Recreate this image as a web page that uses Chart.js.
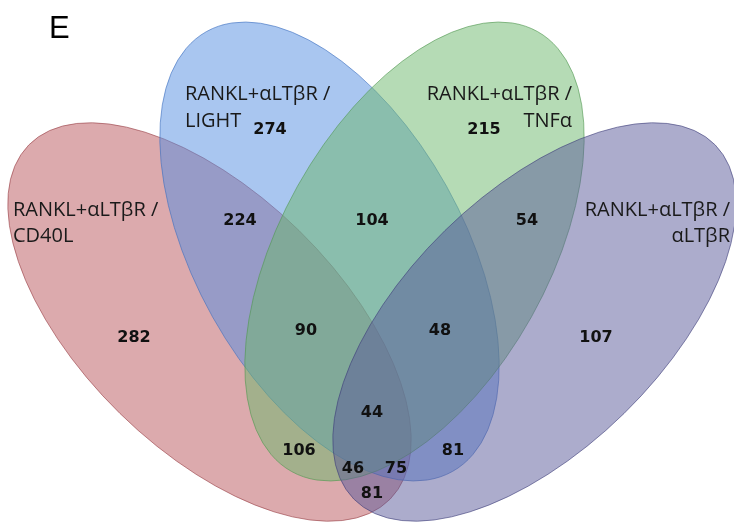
<!DOCTYPE html>
<html>
<head>
<meta charset="utf-8">
<script src="https://cdn.jsdelivr.net/npm/chart.js@4.4.1/dist/chart.umd.min.js"></script>
<style>
  html, body { margin: 0; padding: 0; background: #ffffff; }
  #wrap { width: 734px; height: 522px; position: relative; }
</style>
</head>
<body>
<div id="wrap"><canvas id="c" width="734" height="522"></canvas></div>
<script>
// ---------- DATA ----------
const panelLetter = 'E';
const setNames = ['RANKL+αLTβR / CD40L', 'RANKL+αLTβR / LIGHT', 'RANKL+αLTβR / TNFα', 'RANKL+αLTβR / αLTβR'];
// region memberships (C = CD40L, L = LIGHT, T = TNFα, A = αLTβR)
const regionKeys = ['C', 'L', 'T', 'A', 'CL', 'LT', 'TA', 'CLT', 'LTA', 'CLTA', 'CT', 'LA', 'CLA_T', 'CLA', 'CA'];
const regionCounts = [282, 274, 215, 107, 224, 104, 54, 90, 48, 44, 106, 81, 46, 75, 81];

// ---------- LAYOUT (positions / styles, in chart units) ----------
// region label anchors
const regionPos = [
  [134, 338], [270, 130], [484, 130], [596, 338],
  [240, 221], [372, 221], [527, 221],
  [306, 331], [440, 331], [372, 413],
  [299, 451], [453, 451], [353, 469], [396, 469], [372, 494]
];
// ellipses: centre x, centre y, semi-major, semi-minor, angle(deg, screen)
const ellipses = [
  { cx: 209.5, cy: 322,   a: 253, b: 128, ang: 44.4,  fill: 'rgba(185,85,91,0.5)',   stroke: 'rgba(150,60,66,0.6)' },
  { cx: 329.5, cy: 251.5, a: 252, b: 134, ang: 60.8,  fill: 'rgba(83,141,225,0.5)',  stroke: 'rgba(60,110,190,0.6)' },
  { cx: 414.5, cy: 251.5, a: 252, b: 134, ang: 119.2, fill: 'rgba(107,183,107,0.5)', stroke: 'rgba(80,150,80,0.6)' },
  { cx: 534.5, cy: 322,   a: 253, b: 128, ang: 135.6, fill: 'rgba(89,89,153,0.5)',   stroke: 'rgba(60,60,120,0.6)' }
];
// set-name label lines
const setLabelLayout = [
  { x: 13,  y: [216, 242], align: 'left'  },
  { x: 185, y: [100, 127], align: 'left'  },
  { x: 572, y: [100, 127], align: 'right' },
  { x: 730, y: [216, 242], align: 'right' }
];

const vennPlugin = {
  id: 'venn',
  beforeDatasetsDraw(chart) {
    const ctx = chart.ctx, xs = chart.scales.x, ys = chart.scales.y;
    const kx = (xs.getPixelForValue(100) - xs.getPixelForValue(0)) / 100;
    const ky = (ys.getPixelForValue(100) - ys.getPixelForValue(0)) / 100;
    ctx.save();
    ellipses.forEach(e => {
      ctx.beginPath();
      ctx.ellipse(xs.getPixelForValue(e.cx), ys.getPixelForValue(e.cy), e.a * Math.abs(kx), e.b * Math.abs(ky), e.ang * Math.PI / 180, 0, Math.PI * 2);
      ctx.fillStyle = e.fill;
      ctx.fill();
      ctx.lineWidth = 1;
      ctx.strokeStyle = e.stroke;
      ctx.stroke();
    });
    ctx.restore();
  },
  afterDatasetsDraw(chart) {
    const ctx = chart.ctx, xs = chart.scales.x, ys = chart.scales.y;
    ctx.save();
    // counts
    const meta = chart.getDatasetMeta(0);
    ctx.font = 'bold 16px "DejaVu Sans", Verdana, sans-serif';
    ctx.fillStyle = '#111111';
    ctx.textAlign = 'center';
    ctx.textBaseline = 'middle';
    meta.data.forEach((pt, i) => {
      ctx.fillText(String(regionCounts[i]), pt.x, pt.y);
    });
    // set labels
    ctx.font = '20px "Open Sans", sans-serif';
    ctx.fillStyle = '#1a1a1a';
    ctx.textBaseline = 'alphabetic';
    setNames.forEach((name, i) => {
      const L = setLabelLayout[i];
      const parts = name.split(' / ');
      const lines = [parts[0] + ' /', parts[1]];
      ctx.textAlign = L.align;
      lines.forEach((t, j) => ctx.fillText(t, xs.getPixelForValue(L.x), ys.getPixelForValue(L.y[j])));
    });
    // panel letter
    ctx.font = '31px "Liberation Sans", Arial, sans-serif';
    ctx.fillStyle = '#000000';
    ctx.textAlign = 'left';
    ctx.fillText(panelLetter, xs.getPixelForValue(49), ys.getPixelForValue(38));
    ctx.restore();
  }
};

new Chart(document.getElementById('c'), {
  type: 'scatter',
  data: {
    datasets: [{
      label: 'regions',
      data: regionCounts.map((v, i) => ({ x: regionPos[i][0], y: regionPos[i][1], count: v })),
      pointRadius: 0,
      pointHoverRadius: 0
    }]
  },
  options: {
    responsive: false,
    animation: false,
    events: [],
    layout: { padding: 0 },
    plugins: { legend: { display: false }, tooltip: { enabled: false } },
    scales: {
      x: { type: 'linear', min: 0, max: 734, display: false },
      y: { type: 'linear', min: 0, max: 522, reverse: true, display: false }
    }
  },
  plugins: [vennPlugin]
});
</script>
</body>
</html>
